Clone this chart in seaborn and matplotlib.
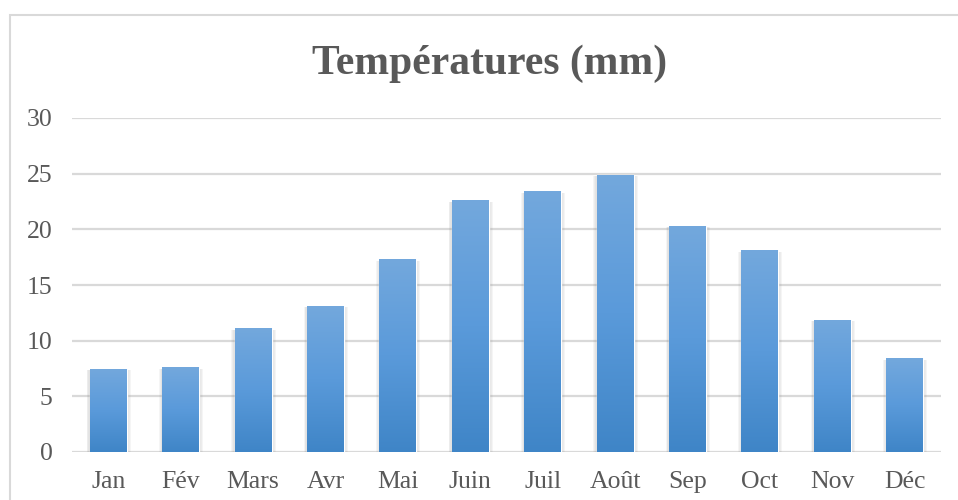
import numpy as np
import pandas as pd
import matplotlib
matplotlib.use('Agg')
import matplotlib.pyplot as plt
from matplotlib.colors import LinearSegmentedColormap
from matplotlib.patches import Rectangle
import seaborn as sns

months = ['Jan', 'Fév', 'Mars', 'Avr', 'Mai', 'Juin', 'Juil', 'Août', 'Sep', 'Oct', 'Nov', 'Déc']
temps = [7.5, 7.6, 11.1, 13.1, 17.3, 22.6, 23.4, 24.9, 20.3, 18.1, 11.9, 8.4]
y_ticks = [0, 5, 10, 15, 20, 25, 30]
title = 'Températures (mm)'

df = pd.DataFrame({'mois': months, 'temp': temps})

sns.set_style('white')
plt.rcParams['font.family'] = ['Liberation Serif', 'DejaVu Serif']

fig = plt.figure(figsize=(9.58, 5), dpi=100)
ax = fig.add_axes([72 / 958, 1 - 452 / 500, (941 - 72) / 958, (452 - 118) / 500])

# chart area border (cut off at right and bottom like the source)
fig.patches.append(Rectangle((10 / 958, -0.1), 1.2, 1 - 15 / 500 + 0.1, transform=fig.transFigure,
                             fill=False, edgecolor='#d9d9d9', linewidth=1.5, zorder=0))

sns.barplot(data=df, x='mois', y='temp', color='#5b9bd5', width=0.51, ax=ax, zorder=3)

grad = LinearSegmentedColormap.from_list('g', ['#3f85c7', '#5a9ada', '#73a8dd'])
px = 1 / 72.5  # one pixel in category units
for bar in list(ax.patches):
    x0, y0 = bar.get_x(), bar.get_y()
    w, h = bar.get_width(), bar.get_height()
    # soft shadow on the sides of the bar
    for k in range(1, 5):
        ax.add_patch(Rectangle((x0 - k * px * 0.8, y0), w + k * px * 1.8, h - 0.1,
                               color='#7f7f7f', alpha=0.07, linewidth=0, zorder=2))
    img = ax.imshow(np.linspace(0, 1, 256).reshape(-1, 1), cmap=grad, aspect='auto',
                    extent=[x0, x0 + w, y0, y0 + h], origin='lower', zorder=4)
    img.set_clip_path(bar)

ax.set_xlim(-0.5, len(months) - 0.5)
ax.set_ylim(0, 30)
ax.set_yticks(y_ticks)
ax.yaxis.grid(True, color='#d9d9d9', linewidth=1.6, zorder=0)
ax.set_axisbelow(True)
for s in ax.spines.values():
    s.set_visible(False)
ax.set_xlabel('')
ax.set_ylabel('')
ax.tick_params(axis='both', length=0, labelsize=18.5, labelcolor='#595959')
ax.tick_params(axis='x', pad=14)
ax.tick_params(axis='y', pad=14)

fig.text(490 / 958, 1 - 64 / 500, title, ha='center', va='center', fontsize=30,
         fontweight='bold', color='#595959')

fig.savefig('out.png', dpi=100)
